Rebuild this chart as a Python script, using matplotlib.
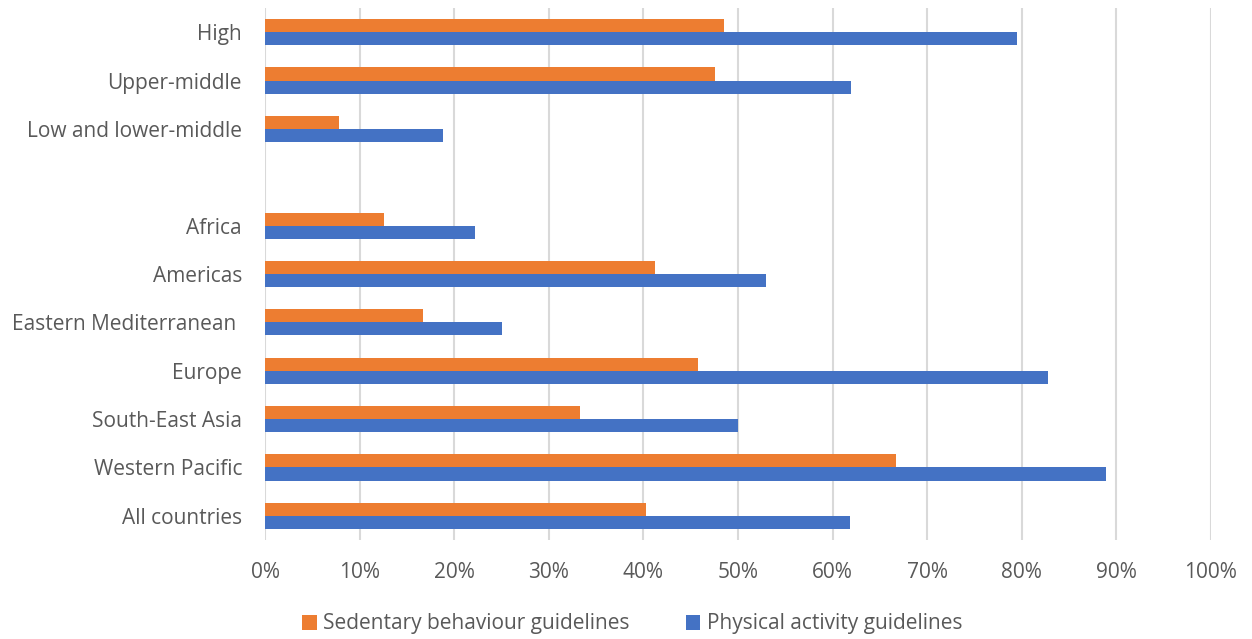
import numpy as np
import matplotlib.pyplot as plt
from matplotlib.ticker import PercentFormatter

# categories top to bottom, '' leaves an empty slot between income groups and regions
categories = ['High', 'Upper-middle', 'Low and lower-middle', '',
              'Africa', 'Americas', 'Eastern Mediterranean ', 'Europe',
              'South-East Asia', 'Western Pacific', 'All countries']
sedentary = [48.5, 47.6, 7.8, np.nan, 12.6, 41.2, 16.7, 45.8, 33.3, 66.7, 40.3]
physical = [79.5, 61.9, 18.8, np.nan, 22.2, 53.0, 25.0, 82.8, 50.0, 88.9, 61.8]
xticks = np.arange(0, 101, 10)

orange = '#ED7D31'
blue = '#4472C4'
grey = '#595959'

plt.rcParams['font.family'] = ['Open Sans', 'DejaVu Sans']

fig = plt.figure(figsize=(12.52, 6.39), dpi=100)
ax = fig.add_axes([265/1252, 1-540/639, (1211-265)/1252, (540-8)/639])

y = np.arange(len(categories))
h = 0.27
ax.barh(y - h/2, sedentary, height=h, color=orange, label='Sedentary behaviour guidelines', zorder=3)
ax.barh(y + h/2, physical, height=h, color=blue, label='Physical activity guidelines', zorder=3)

ax.set_ylim(len(categories) - 0.5, -0.5)
ax.set_xlim(0, 100)
ax.set_yticks(y)
ax.set_yticklabels(categories, fontsize=15, color=grey)
ax.set_xticks(xticks)
ax.xaxis.set_major_formatter(PercentFormatter(decimals=0))
ax.tick_params(axis='x', labelsize=15, labelcolor=grey, length=0, pad=16)
ax.tick_params(axis='y', length=0, pad=16.5)

ax.grid(axis='x', color='#D9D9D9', linewidth=1.5, zorder=0)
for s in ax.spines.values():
    s.set_visible(False)

fig.legend(loc='center', bbox_to_anchor=(0.505, 1-624/639), ncol=2, frameon=False,
           fontsize=15, labelcolor=grey, handlelength=0.7, handleheight=0.7,
           handletextpad=0.3, columnspacing=2.7)

fig.savefig('out.png', dpi=100)
